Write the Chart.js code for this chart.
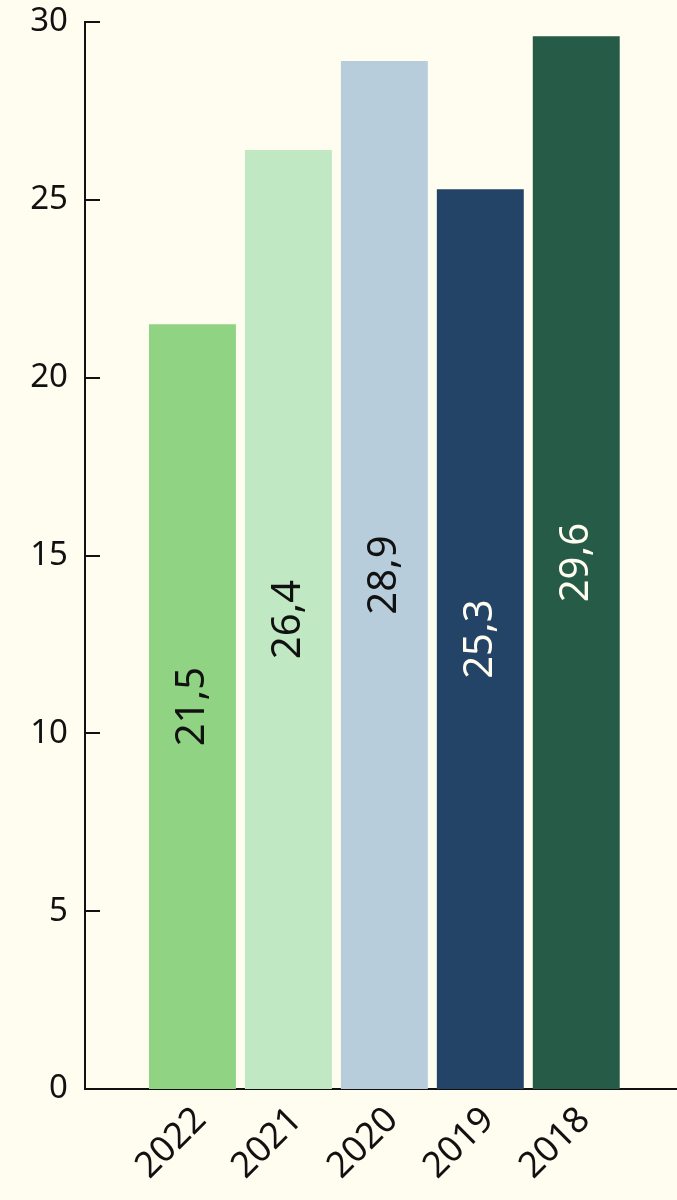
<!DOCTYPE html>
<html>
<head>
<meta charset="utf-8">
<script src="https://cdn.jsdelivr.net/npm/chart.js@4"></script>
<style>
    html, body { margin: 0; padding: 0; background: #fffcf0; }
    #wrap { width: 677px; height: 1200px; position: relative; }
</style>
</head>
<body>
<div id="wrap"><canvas id="bars"></canvas></div>
<script>
const years = ['2022', '2021', '2020', '2019', '2018'];
const values = [21.5, 26.4, 28.9, 25.3, 29.6];
const colors = ['#8fd383', '#bfe8c3', '#b7cddc', '#234466', '#265b48'];
const labelColors = ['#111111', '#111111', '#111111', '#fffcf0', '#fffcf0'];
const yTicks = [0, 5, 10, 15, 20, 25, 30];

const FONT = "'Noto Sans', sans-serif";

// petits traits de graduation vers l'intérieur du graphique
const innerTicks = {
    id: 'innerTicks',
    afterDraw(chart) {
        const ctx = chart.ctx;
        const y = chart.scales.y;
        const left = chart.chartArea.left;
        ctx.save();
        ctx.strokeStyle = '#111111';
        ctx.lineWidth = 2;
        yTicks.forEach(v => {
            const py = Math.round(y.getPixelForValue(v));
            ctx.beginPath();
            ctx.moveTo(left, py);
            ctx.lineTo(left + 15, py);
            ctx.stroke();
        });
        ctx.restore();
    }
};

// valeurs écrites verticalement au milieu des barres
const barValues = {
    id: 'barValues',
    afterDatasetsDraw(chart) {
        const ctx = chart.ctx;
        const meta = chart.getDatasetMeta(0);
        ctx.save();
        ctx.font = '40px ' + FONT;
        ctx.textAlign = 'center';
        ctx.textBaseline = 'middle';
        meta.data.forEach((bar, i) => {
            const midY = (bar.y + bar.base) / 2;
            ctx.save();
            ctx.translate(bar.x, midY);
            ctx.rotate(-Math.PI / 2);
            ctx.fillStyle = labelColors[i];
            ctx.fillText(values[i].toFixed(1).replace('.', ','), 0, 0);
            ctx.restore();
        });
        ctx.restore();
    }
};

new Chart(document.getElementById('bars'), {
    type: 'bar',
    data: {
        datasets: [{
            data: values.map((v, i) => ({ x: i + 1, y: v })),
            backgroundColor: colors,
            barPercentage: 0.906,
            categoryPercentage: 1
        }]
    },
    options: {
        responsive: true,
        maintainAspectRatio: false,
        animation: false,
        layout: { padding: { top: 22, right: 0, left: 0, bottom: 0 } },
        plugins: {
            legend: { display: false },
            tooltip: { enabled: false }
        },
        scales: {
            x: {
                type: 'linear',
                offset: false,
                min: -0.12,
                max: 6.05,
                afterBuildTicks: scale => {
                    scale.ticks = years.map((_, i) => ({ value: i + 1 }));
                },
                afterFit: scale => {
                    scale.height = 111;
                    scale.paddingLeft = 0;
                    scale.paddingRight = 0;
                },
                grid: { display: false, drawTicks: false },
                border: { display: true, color: '#111111', width: 2 },
                ticks: {
                    autoSkip: false,
                    minRotation: 45,
                    maxRotation: 45,
                    padding: 10,
                    labelOffset: 8,
                    color: '#111111',
                    font: { family: FONT, size: 36 },
                    callback: v => years[v - 1] || ''
                }
            },
            y: {
                min: 0,
                max: 30,
                afterBuildTicks: scale => {
                    scale.ticks = yTicks.map(v => ({ value: v }));
                },
                afterFit: scale => {
                    scale.width = 85;
                    scale.paddingTop = 0;
                    scale.paddingBottom = 0;
                },
                grid: { display: false, drawTicks: false },
                border: { display: true, color: '#111111', width: 2 },
                ticks: {
                    padding: 17,
                    color: '#111111',
                    font: { family: FONT, size: 33 }
                }
            }
        }
    },
    plugins: [innerTicks, barValues]
});
</script>
</body>
</html>
